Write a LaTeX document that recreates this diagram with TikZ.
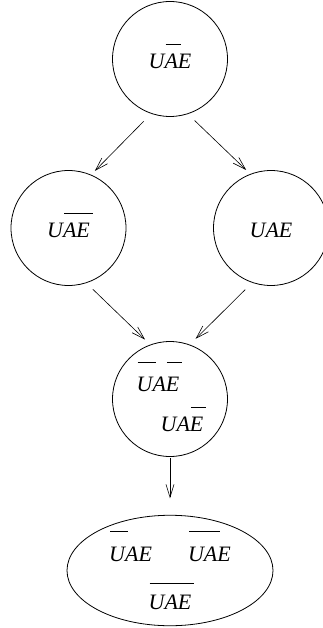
\documentclass[tikz,border=0pt]{standalone}
\usepackage{fontspec}
\setmainfont{Liberation Serif}
\usetikzlibrary{shapes.geometric,arrows.meta}
\newcommand\ovl[2][24]{\setbox0\hbox{#2}\rlap{\kern1pt\raise#1pt\hbox{\vrule width\dimexpr\wd0+2pt\relax height 0.9pt depth 0pt}}\box0}
\begin{document}
\begin{tikzpicture}[x=1pt,y=-1pt,
  state/.style={circle,draw,line width=0.8pt,minimum size=115pt,inner sep=0pt,
    font=\fontsize{22}{40}\selectfont\itshape},
  single/.style={text height=19pt,text depth=0pt},
  oval/.style={ellipse,draw,line width=0.8pt,minimum width=206pt,minimum height=110pt,
    inner sep=0pt,align=center,font=\fontsize{22}{48}\selectfont\itshape},
  link/.style={-{Straight Barb[length=13pt,width=8pt]},line width=0.6pt}]
\useasboundingbox (0,0) rectangle (322,628);
\node[state,single] (top) at (170,59) {U\ovl{A}E};
\node[state,single] (left) at (68.5,228) {U\ovl{AE}};
\node[state,single] (right) at (271,228) {UAE};
\node[state,align=left] (mid) at (170,399) {\ovl[29]{U}A\ovl[29]{E}\\\hspace*{24pt}UA\ovl{E}\rule[-4pt]{0pt}{4pt}};
\node[oval] (bot) at (170,570.5) {\ovl[29]{U}AE\hspace{36pt}\ovl[29]{UA}E\\\ovl[25]{UAE}};
\draw[link,shorten <=10.7pt,shorten >=5.3pt] (top.251.3) -- (left.67.8);
\draw[link,shorten <=9.3pt,shorten >=5.7pt] (top.288.7) -- (right.111.6);
\draw[link,shorten <=9pt,shorten >=7.2pt] (left.288.3) -- (mid.110.3);
\draw[link,shorten <=9.8pt,shorten >=8.2pt] (right.251.5) -- (mid.70.5);
\draw[link,shorten <=1.5pt,shorten >=16.5pt] (mid.south) -- (bot.north);
\end{tikzpicture}
\end{document}
